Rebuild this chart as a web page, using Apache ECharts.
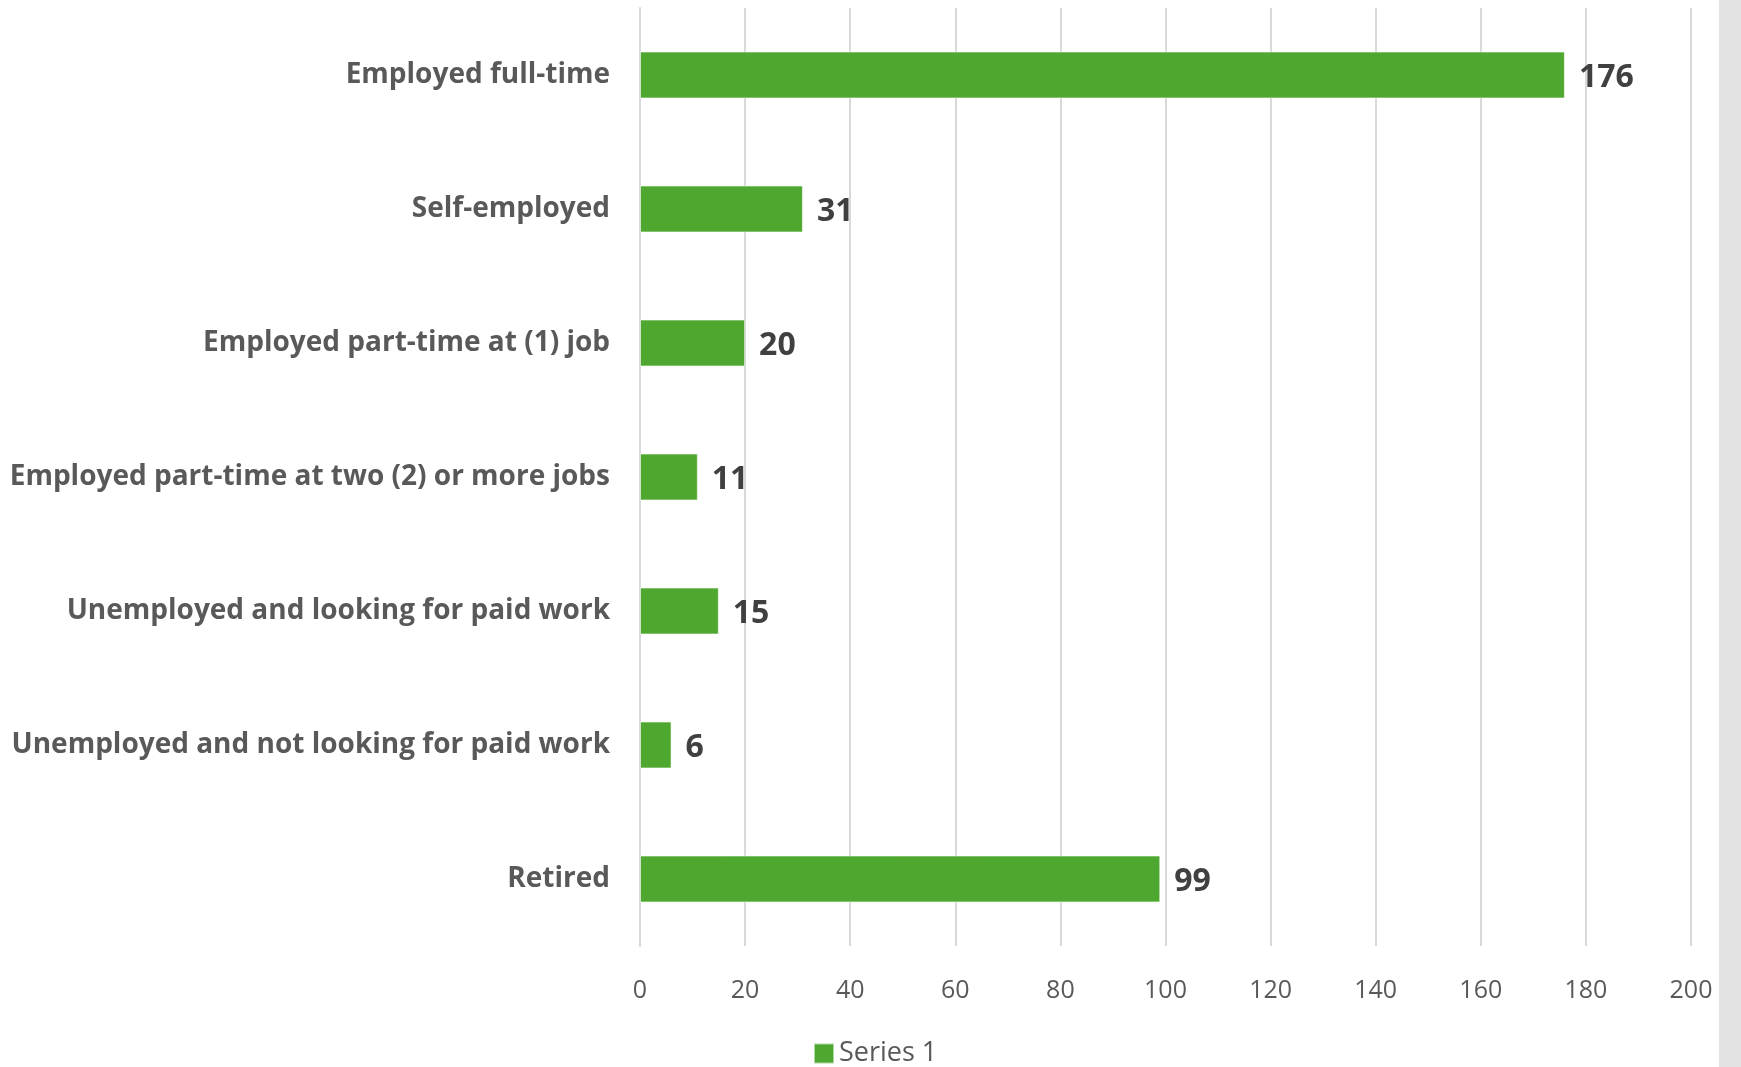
<!DOCTYPE html>
<html>
<head>
<meta charset="utf-8">
<script src="https://cdn.jsdelivr.net/npm/echarts@6/dist/echarts.min.js"></script>
<style>
  html, body { margin: 0; padding: 0; background: #ffffff; }
  #chart { width: 1741px; height: 1067px; }
</style>
</head>
<body>
<div id="chart"></div>
<script>
// Employment status responses (top to bottom as listed)
const categories = [
  'Employed full-time',
  'Self-employed',
  'Employed part-time at (1) job',
  'Employed part-time at two (2) or more jobs',
  'Unemployed and looking for paid work',
  'Unemployed and not looking for paid work',
  'Retired'
];
const seriesValues = [176, 31, 20, 11, 15, 6, 99];
const seriesName = 'Series 1';
const axisMin = 0;
const axisMax = 200;
const axisStep = 20;

const FONT = '"Open Sans", Lato, sans-serif';

const chart = echarts.init(document.getElementById('chart'), null, { renderer: 'canvas' });

chart.setOption({
  backgroundColor: '#ffffff',
  animation: false,
  grid: { left: 640, right: 50, top: 8, bottom: 121, containLabel: false },
  legend: {
    data: [seriesName],
    top: 1035,
    left: 808,
    itemWidth: 20,
    itemHeight: 20,
    itemGap: 8,
    icon: 'rect',
    textStyle: { color: '#595959', fontSize: 27, fontFamily: FONT }
  },
  xAxis: {
    type: 'value',
    min: axisMin,
    max: axisMax,
    interval: axisStep,
    axisLine: { show: false },
    axisTick: { show: false },
    splitLine: { show: true, lineStyle: { color: '#d9d9d9', width: 2 } },
    axisLabel: { color: '#595959', fontSize: 25, fontFamily: FONT, margin: 32 }
  },
  yAxis: {
    type: 'category',
    data: categories,
    inverse: true,
    axisLine: { show: true, lineStyle: { color: '#d9d9d9', width: 2 } },
    axisTick: { show: false },
    axisLabel: { color: '#595959', fontSize: 28, fontWeight: 'bold', fontFamily: FONT, margin: 30 }
  },
  series: [{
    name: seriesName,
    type: 'bar',
    data: seriesValues,
    barCategoryGap: '65%',
    itemStyle: { color: '#4ea72e', borderColor: 'rgba(255,255,255,0.55)', borderWidth: 1 },
    label: {
      show: true,
      position: 'right',
      distance: 14,
      color: '#404040',
      fontSize: 32,
      fontWeight: 'bold',
      fontFamily: FONT,
      offset: [0, 3]
    }
  }],
  graphic: [{
    type: 'rect',
    right: 0,
    top: 0,
    shape: { width: 22, height: 1067 },
    style: { fill: '#e3e3e3' },
    silent: true
  }]
});
</script>
</body>
</html>
